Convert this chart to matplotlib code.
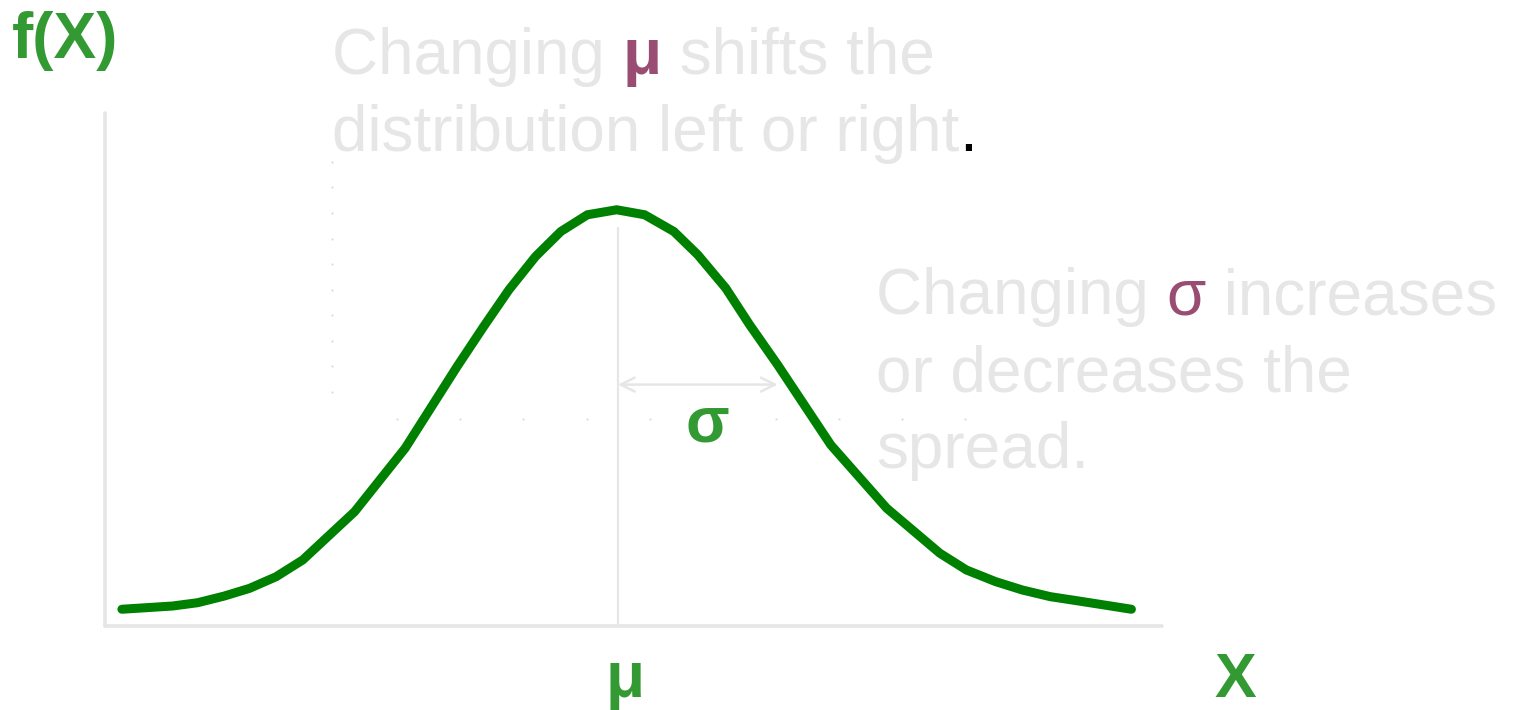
import matplotlib
matplotlib.use("Agg")
import matplotlib.pyplot as plt
import numpy as np
from matplotlib.font_manager import FontProperties

# ---------------- data ----------------
x_vals = [-3.73, -3.35, -3.16, -2.96, -2.77, -2.57, -2.37, -1.98, -1.60, -1.21,
          -1.01, -0.82, -0.62, -0.43, -0.23, -0.01, 0.20, 0.42, 0.60, 0.81,
          0.99, 1.20, 1.60, 2.02, 2.42, 2.62, 2.84, 3.04, 3.25, 3.45, 3.86]
f_vals = [0.0161, 0.0192, 0.0224, 0.0288, 0.0362, 0.0474, 0.0635, 0.1099, 0.1709, 0.2493,
          0.2878, 0.3231, 0.3551, 0.3791, 0.3952, 0.4000, 0.3952, 0.3791, 0.3567, 0.3247,
          0.2894, 0.2510, 0.1740, 0.1132, 0.0699, 0.0538, 0.0426, 0.0346, 0.0282, 0.0243,
          0.0161]
mu = 0.0
sigma = 1.20
mu_line_top = 0.383
arrow_level = 0.232

y_label = "f(X)"
x_label = "X"
mu_label = "μ"
sigma_label = "σ"
note1 = [[("Changing ", "gray", "normal"), ("μ", "purple", "bold"), (" shifts the", "gray", "normal")],
         [("distribution left or right", "gray", "normal"), (".", "black", "normal")]]
note2 = [[("Changing ", "gray", "normal"), ("σ", "purple", "normal"), (" increases", "gray", "normal")],
         [("or decreases the", "gray", "normal")],
         [("spread.", "gray", "normal")]]

# ---------------- style ----------------
W, H, DPI = 1519, 710, 100
GREEN_LINE = "#008000"
GREEN_TXT = "#339933"
LIGHT = "#e6e6e6"
COLORS = {"gray": "#e6e6e6", "purple": "#994d73", "black": "#000000"}
FONT = "Liberation Sans"

fig = plt.figure(figsize=(W / DPI, H / DPI), dpi=DPI)
fig.patch.set_facecolor("white")

ax = fig.add_axes([105 / W, 84 / H, 1057 / W, 513 / H])
ax.set_xlim(-3.857, 4.090)
ax.set_ylim(0, 0.493)
for s in ("top", "right"):
    ax.spines[s].set_visible(False)
for s in ("left", "bottom"):
    ax.spines[s].set_color(LIGHT)
    ax.spines[s].set_linewidth(2.6)
    ax.spines[s].set_capstyle("round")
ax.set_xticks([])
ax.set_yticks([])
ax.patch.set_alpha(0)

# faint dotted guide remnants
ax.plot(np.full(10, -2.15), np.linspace(0.446, 0.225, 10), linestyle="none",
        marker="s", markersize=1.3, color="#d6d6d6", markeredgewidth=0)
ax.plot(np.linspace(-1.66, 2.61, 10), np.full(10, 0.199), linestyle="none",
        marker="s", markersize=1.3, color="#d6d6d6", markeredgewidth=0)

# mean line and sigma arrow
ax.plot([mu, mu], [0, mu_line_top], color=LIGHT, lw=1.6, solid_capstyle="butt")
ax.annotate("", xy=(mu, arrow_level), xytext=(mu + sigma, arrow_level),
            arrowprops=dict(arrowstyle="<->", color=LIGHT, lw=1.8,
                            shrinkA=0, shrinkB=0, mutation_scale=25))

# the curve
ax.plot(x_vals, f_vals, color=GREEN_LINE, lw=6.5, solid_capstyle="round",
        solid_joinstyle="miter", zorder=5)

# ---------------- texts ----------------
def px(x, y):
    return x / W, 1 - y / H

fig.text(*px(12, 58), y_label, color=GREEN_TXT, fontsize=46, fontweight="bold",
         family=FONT, va="baseline", ha="left")
fig.text(*px(625, 697), mu_label, color=GREEN_TXT, fontsize=46, fontweight="bold",
         family=FONT, va="baseline", ha="center")
fig.text(*px(1235, 697), x_label, color=GREEN_TXT, fontsize=45, fontweight="bold",
         family=FONT, va="baseline", ha="center")
fig.text(*px(707, 442), sigma_label, color=GREEN_TXT, fontsize=46, fontweight="bold",
         family=FONT, va="baseline", ha="center", zorder=10)

fig.canvas.draw()
renderer = fig.canvas.get_renderer()


def text_width(s, prop):
    w1, _, _ = renderer.get_text_width_height_descent("|" + s + "|", prop, ismath=False)
    w0, _, _ = renderer.get_text_width_height_descent("||", prop, ismath=False)
    return w1 - w0


def rich_block(x0, y0, lines, size, spacing):
    for i, parts in enumerate(lines):
        x = x0
        y = y0 + i * spacing
        for s, c, wgt in parts:
            prop = FontProperties(family=FONT, size=size, weight=wgt)
            fig.text(*px(x, y), s, color=COLORS[c], fontproperties=prop,
                     va="baseline", ha="left")
            x += text_width(s, prop)


rich_block(332, 74, note1, 46, 77)
rich_block(876, 314, note2, 46, 77)

fig.savefig("out.png", dpi=DPI, facecolor="white")
